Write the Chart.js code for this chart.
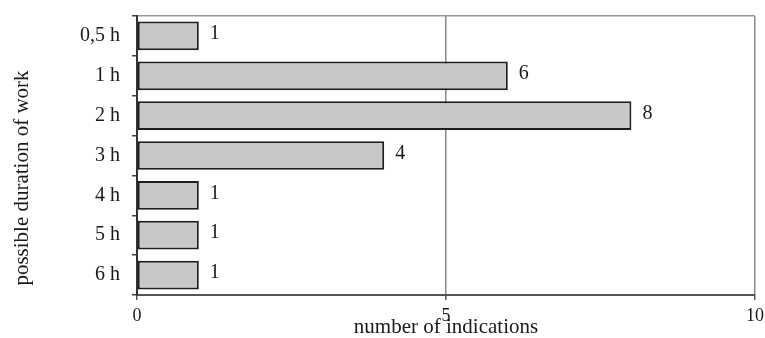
<!DOCTYPE html>
<html>
<head>
<meta charset="utf-8">
<script src="https://cdn.jsdelivr.net/npm/chart.js@4.4.0/dist/chart.umd.min.js"></script>
<style>
  html, body { margin: 0; padding: 0; background: #fff; }
  #wrap { width: 765px; height: 338px; }
</style>
</head>
<body>
<div id="wrap"><canvas id="barChart" width="765" height="338"></canvas></div>
<script>
// durations asked about and how many people named each one
const durations = ['0,5 h', '1 h', '2 h', '3 h', '4 h', '5 h', '6 h'];
const indications = [1, 6, 8, 4, 1, 1, 1];
const xTicks = [0, 5, 10];

const serif = '"Liberation Serif", "Times New Roman", serif';

// writes the count just right of each bar
const valueLabels = {
    id: 'valueLabels',
    afterDatasetsDraw(chart) {
        const ctx = chart.ctx;
        const meta = chart.getDatasetMeta(0);
        ctx.save();
        ctx.font = '20px ' + serif;
        ctx.fillStyle = '#1a1a1a';
        ctx.textAlign = 'left';
        ctx.textBaseline = 'middle';
        meta.data.forEach((bar, i) => {
            ctx.fillText(String(indications[i]), bar.x + 11, bar.y - 2);
        });
        ctx.restore();
    }
};

// rotated y axis caption, sitting a little below the middle of the plot
const yCaption = {
    id: 'yCaption',
    afterDraw(chart) {
        const ctx = chart.ctx;
        const area = chart.chartArea;
        ctx.save();
        ctx.translate(22, area.bottom - 117);
        ctx.rotate(-Math.PI / 2);
        ctx.font = '21px ' + serif;
        ctx.fillStyle = '#1a1a1a';
        ctx.textAlign = 'center';
        ctx.textBaseline = 'middle';
        ctx.fillText('possible duration of work', 0, 0);
        ctx.restore();
    }
};

new Chart(document.getElementById('barChart').getContext('2d'), {
    type: 'bar',
    data: {
        labels: durations,
        datasets: [{
            data: indications,
            backgroundColor: '#c8c8c8',
            borderColor: '#1e1e1e',
            borderWidth: 2,
            borderSkipped: false,
            categoryPercentage: 1,
            barPercentage: 0.72
        }]
    },
    options: {
        indexAxis: 'y',
        responsive: false,
        animation: false,
        layout: { padding: { top: 16, right: 10, left: 0, bottom: 0 } },
        plugins: {
            legend: { display: false },
            tooltip: { enabled: false }
        },
        scales: {
            x: {
                min: 0,
                max: 10,
                afterFit: (scale) => {
                    scale.height = 43;
                    scale.paddingLeft = 0;
                    scale.paddingRight = 0;
                },
                afterBuildTicks: (scale) => { scale.ticks = xTicks.map(v => ({ value: v })); },
                ticks: {
                    font: { family: serif, size: 18 },
                    color: '#1a1a1a',
                    padding: 5,
                    maxRotation: 0
                },
                grid: {
                    color: '#888',
                    lineWidth: 1.5,
                    tickColor: '#555',
                    tickLength: 5
                },
                border: { color: '#555', width: 2 },
                title: {
                    display: true,
                    text: 'number of indications',
                    font: { family: serif, size: 21, lineHeight: 1 },
                    color: '#1a1a1a',
                    padding: 0
                }
            },
            y: {
                afterFit: (scale) => {
                    scale.width = 137;
                    scale.paddingTop = 0;
                    scale.paddingBottom = 0;
                },
                ticks: {
                    font: { family: serif, size: 20 },
                    color: '#1a1a1a',
                    padding: 12
                },
                grid: {
                    offset: true,
                    color: (ctx) => ctx.index === 0 ? '#999' : 'transparent',
                    lineWidth: 1.5,
                    tickColor: '#444',
                    tickLength: 5
                },
                border: { color: '#333', width: 2 }
            }
        }
    },
    plugins: [valueLabels, yCaption]
});
</script>
</body>
</html>
